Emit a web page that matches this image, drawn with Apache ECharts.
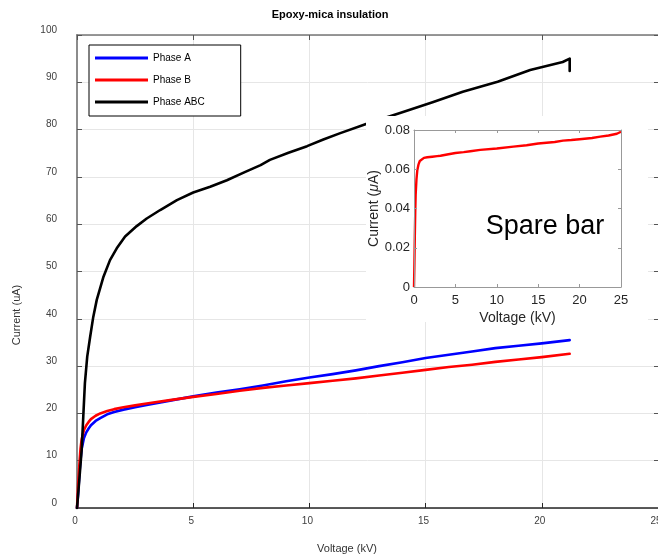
<!DOCTYPE html>
<html>
<head>
<meta charset="utf-8">
<script src="https://cdn.jsdelivr.net/npm/echarts@6/dist/echarts.min.js"></script>
<style>
  html, body { margin: 0; padding: 0; background: #fff; }
  #chart { width: 658px; height: 560px; }
</style>
</head>
<body>
<div id="chart"></div>
<script>
// Main axes: leakage current vs. applied voltage for each phase
const voltageA = [0, 0.05, 0.1, 0.15, 0.2, 0.3, 0.4, 0.5, 0.6, 0.8, 1.0, 1.3, 1.6, 2.0, 2.5, 3.0, 4.0, 5.0, 6.0, 7.0, 8.0, 9.0, 10.0, 11.0, 12.0, 13.0, 14.0, 15.0, 16.0, 17.0, 18.0, 19.0, 20.0, 21.2];
const currentA = [0, 3, 7, 10, 12.5, 14.8, 16.0, 16.8, 17.5, 18.4, 19.0, 19.8, 20.3, 20.8, 21.3, 21.8, 22.7, 23.6, 24.4, 25.1, 25.9, 26.8, 27.6, 28.3, 29.1, 30.0, 30.8, 31.7, 32.4, 33.1, 33.8, 34.3, 34.8, 35.5];

const voltageB = [0, 0.05, 0.1, 0.15, 0.2, 0.3, 0.4, 0.5, 0.6, 0.8, 1.0, 1.3, 1.6, 2.0, 2.5, 3.0, 4.0, 5.0, 6.0, 7.0, 8.0, 9.0, 10.0, 11.0, 12.0, 13.0, 14.0, 15.0, 16.0, 17.0, 18.0, 19.0, 20.0, 21.2];
const currentB = [0, 5, 9, 12.5, 14.5, 16.5, 17.5, 18.2, 18.8, 19.5, 20.0, 20.5, 20.9, 21.3, 21.7, 22.1, 22.8, 23.5, 24.1, 24.8, 25.4, 25.9, 26.4, 26.9, 27.4, 28.0, 28.6, 29.2, 29.8, 30.3, 30.9, 31.4, 31.9, 32.6];

const voltageABC = [0, 0.1, 0.2, 0.27, 0.34, 0.44, 0.56, 0.7, 0.85, 1.14, 1.42, 1.71, 2.07, 2.57, 3.0, 3.58, 4.3, 5.0, 5.73, 6.45, 7.17, 7.9, 8.3, 9.1, 9.9, 10.6, 11.3, 12.5, 13.2, 13.9, 15.3, 16.6, 18.1, 19.5, 20.9, 21.2, 21.2];
const currentABC = [0, 6, 12.3, 19.3, 26.4, 32.0, 36.0, 40.4, 44.0, 48.9, 52.4, 54.9, 57.4, 59.6, 61.2, 63.0, 65.1, 66.7, 67.9, 69.3, 70.9, 72.5, 73.6, 75.1, 76.5, 77.9, 79.2, 81.3, 82.4, 83.5, 85.8, 88.0, 90.1, 92.6, 94.3, 95.0, 92.4];

// Inset axes: spare bar measurement
const voltageSpare = [0, 0.05, 0.1, 0.15, 0.2, 0.3, 0.4, 0.55, 0.7, 0.9, 1.2, 1.6, 2.2, 2.8, 3.0, 3.2, 4.0, 5.0, 6.0, 6.8, 7.0, 8.0, 10.0, 12.0, 13.6, 15.0, 17.0, 18.0, 19.0, 20.0, 21.5, 22.5, 23.5, 24.5, 25.0];
const currentSpare = [0, 0.012, 0.026, 0.038, 0.047, 0.055, 0.0595, 0.0625, 0.0642, 0.0652, 0.0658, 0.0661, 0.0664, 0.0667, 0.0661, 0.0669, 0.0675, 0.0683, 0.0687, 0.0692, 0.0697, 0.0699, 0.0706, 0.0715, 0.0722, 0.0731, 0.0739, 0.0746, 0.0749, 0.0753, 0.0759, 0.0766, 0.0772, 0.0781, 0.0791];

const seriesNames = ['Phase A', 'Phase B', 'Phase ABC'];
const seriesColors = ['#0000ff', '#ff0000', '#000000'];

const pairs = (xs, ys) => xs.map((x, i) => [x, ys[i]]);
const FONT = "'Liberation Sans', Arial, sans-serif";

const chart = echarts.init(document.getElementById('chart'), null, { renderer: 'canvas' });

const mainX = {
  gridIndex: 0, type: 'value', min: 0, max: 25, interval: 5, position: 'bottom',
  axisLine: { onZero: false, lineStyle: { color: '#262626', width: 1.5 } },
  axisTick: { inside: true, length: 5, lineStyle: { color: '#262626' } },
  axisLabel: { fontFamily: FONT, fontSize: 10, color: '#404040', margin: 8, padding: [0, 4, 0, 0] },
  splitLine: { show: true, lineStyle: { color: '#e6e6e6', width: 1 } }
};
const mainXTop = {
  gridIndex: 0, type: 'value', min: 0, max: 25, interval: 5, position: 'top',
  axisLine: { onZero: false, lineStyle: { color: '#777', width: 1.5 } },
  axisTick: { inside: true, length: 5, lineStyle: { color: '#555' } },
  axisLabel: { show: false }, splitLine: { show: false }
};
const mainY = {
  gridIndex: 0, type: 'value', min: 0, max: 100, interval: 10, position: 'left',
  axisLine: { show: true, onZero: false, lineStyle: { color: '#8c8c8c', width: 2 } },
  axisTick: { show: true, inside: true, length: 5, lineStyle: { color: '#555' } },
  axisLabel: { fontFamily: FONT, fontSize: 10, color: '#404040', margin: 20, verticalAlign: 'bottom', lineHeight: 10 },
  splitLine: { show: true, lineStyle: { color: '#e6e6e6', width: 1 } }
};
const mainYRight = {
  gridIndex: 0, type: 'value', min: 0, max: 100, interval: 10, position: 'right',
  axisLine: { show: true, onZero: false, lineStyle: { color: '#555', width: 1 } },
  axisTick: { show: true, inside: true, length: 4, lineStyle: { color: '#555' } },
  axisLabel: { show: false }, splitLine: { show: false }
};

const insetText = { fontFamily: FONT, fontSize: 13, color: '#262626' };
const insetX = {
  gridIndex: 1, type: 'value', min: 0, max: 25, interval: 5, position: 'bottom', z: 20,
  axisLine: { onZero: false, lineStyle: { color: '#999', width: 1 } },
  axisTick: { inside: true, length: 3, lineStyle: { color: '#999' } },
  axisLabel: Object.assign({ margin: 7 }, insetText),
  splitLine: { show: false },
  name: 'Voltage (kV)', nameLocation: 'middle', nameGap: 24,
  nameTextStyle: { fontFamily: FONT, fontSize: 14, color: '#262626' }
};
const insetXTop = {
  gridIndex: 1, type: 'value', min: 0, max: 25, interval: 5, position: 'top', z: 20,
  axisLine: { onZero: false, lineStyle: { color: '#999', width: 1 } },
  axisTick: { inside: true, length: 3, lineStyle: { color: '#999' } },
  axisLabel: { show: false }, splitLine: { show: false }
};
const insetY = {
  gridIndex: 1, type: 'value', min: 0, max: 0.08, interval: 0.02, position: 'left', z: 20,
  axisLine: { show: true, onZero: false, lineStyle: { color: '#999', width: 1 } },
  axisTick: { show: true, inside: true, length: 3, lineStyle: { color: '#999' } },
  axisLabel: Object.assign({ margin: 4, formatter: v => (v === 0 ? '0' : v.toFixed(2)) }, insetText),
  splitLine: { show: false },
  name: 'Current ({i|μ}A)', nameLocation: 'middle', nameGap: 25,
  nameTextStyle: { fontFamily: FONT, fontSize: 14, color: '#262626', rich: { i: { fontFamily: FONT, fontSize: 14, fontStyle: 'italic', color: '#262626' } } }
};
const insetYRight = {
  gridIndex: 1, type: 'value', min: 0, max: 0.08, interval: 0.02, position: 'right', z: 20,
  axisLine: { show: true, onZero: false, lineStyle: { color: '#999', width: 1 } },
  axisTick: { show: true, inside: true, length: 3, lineStyle: { color: '#999' } },
  axisLabel: { show: false }, splitLine: { show: false }
};

const mainSeries = [pairs(voltageA, currentA), pairs(voltageB, currentB), pairs(voltageABC, currentABC)].map((d, i) => ({
  name: seriesNames[i], type: 'line', xAxisIndex: 0, yAxisIndex: 0,
  data: d, showSymbol: false, symbol: 'none', z: 2 + i * 0.1,
  lineStyle: { color: seriesColors[i], width: 2.6, join: 'round', cap: 'round' }, itemStyle: { color: seriesColors[i] }
}));

chart.setOption({
  animation: false,
  backgroundColor: '#fff',
  title: {
    text: 'Epoxy-mica insulation', left: 325, top: 4, textAlign: 'center',
    textStyle: { fontFamily: FONT, fontSize: 11, fontWeight: 'bold', color: '#000' }
  },
  legend: {
    data: seriesNames, orient: 'vertical', left: 89, top: 45,
    padding: [8, 36, 9, 6], itemGap: 12, itemWidth: 53, itemHeight: 3, icon: 'rect',
    borderColor: '#000', borderWidth: 1, backgroundColor: '#fff',
    textStyle: { fontFamily: FONT, fontSize: 10, color: '#000', padding: [0, 0, 8, 0] }
  },
  grid: [
    { left: 77, top: 35, right: 0, bottom: 52, outerBoundsMode: 'none', containLabel: false },
    { left: 414, top: 130, width: 207, height: 157, outerBoundsMode: 'none', containLabel: false }
  ],
  xAxis: [mainX, mainXTop, insetX, insetXTop],
  yAxis: [mainY, mainYRight, insetY, insetYRight],
  graphic: [
    { type: 'rect', z: 10, shape: { x: 366, y: 116, width: 282, height: 206 }, style: { fill: '#fff' } },
    { type: 'text', z: 30, x: 545, y: 227, style: { text: 'Spare bar', fontFamily: FONT, fontSize: 27, fill: '#000', textAlign: 'center', textVerticalAlign: 'middle' } },
    { type: 'text', z: 5, x: 347, y: 549, style: { text: 'Voltage (kV)', fontFamily: FONT, fontSize: 11, fill: '#333', textAlign: 'center', textVerticalAlign: 'middle' } },
    { type: 'text', z: 5, x: 17, y: 315, rotation: Math.PI / 2, style: { text: 'Current (uA)', fontFamily: FONT, fontSize: 11, fill: '#333', textAlign: 'center', textVerticalAlign: 'middle' } }
  ],
  series: mainSeries.concat([{
    name: 'Spare bar', type: 'line', xAxisIndex: 2, yAxisIndex: 2,
    data: pairs(voltageSpare, currentSpare), showSymbol: false, symbol: 'none', z: 15,
    lineStyle: { color: '#ff0000', width: 2.4, join: 'round' }, itemStyle: { color: '#ff0000' }
  }])
});
</script>
</body>
</html>
